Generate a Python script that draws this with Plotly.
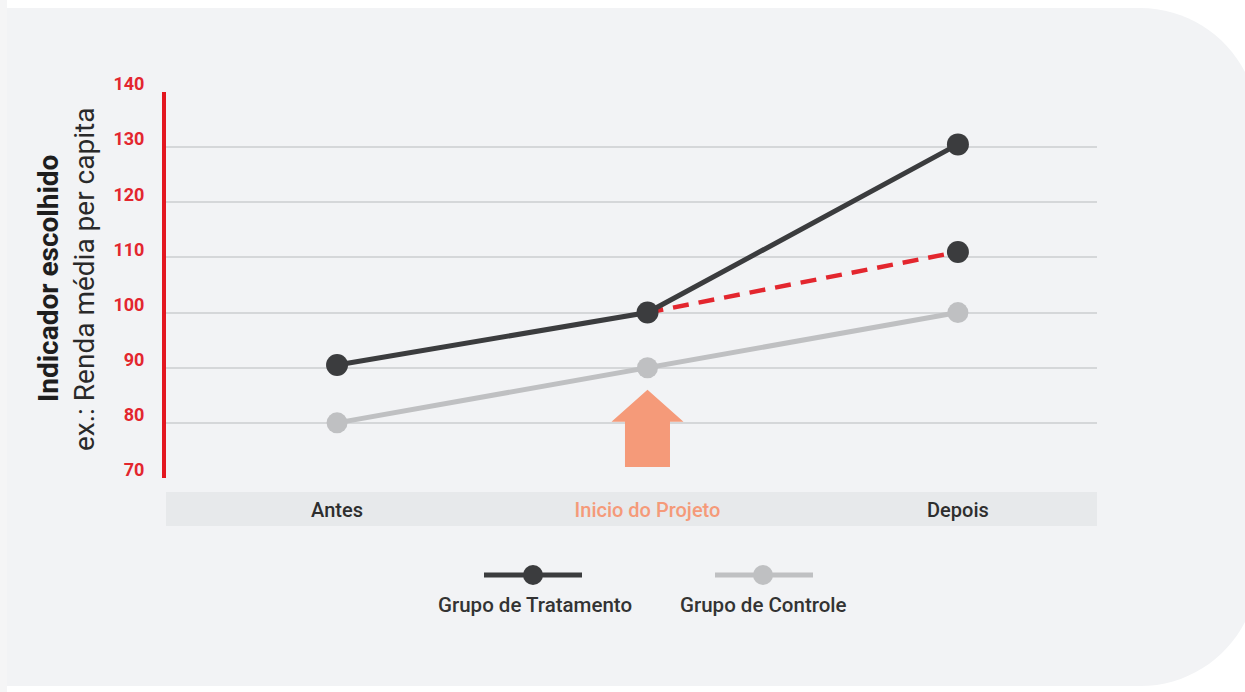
import plotly.graph_objects as go

# ---- data ----
categories = ["Antes", "Inicio do Projeto", "Depois"]
x_pos = [0, 1, 2]
tratamento = [90.5, 100, 130.5]
controle = [80, 90, 100]
contrafactual_x = [1, 2]
contrafactual = [100, 111]
y_ticks = [70, 80, 90, 100, 110, 120, 130, 140]
legend_names = ["Grupo de Tratamento", "Grupo de Controle"]

# ---- style ----
W, H = 1245, 692
L, R, T, B = 166, 1097, 92, 478  # plot area in px
BG = "#f2f3f5"
DARK = "#3b3c3e"
LIGHT = "#bfc0c2"
RED = "#e3262e"
SALMON = "#f59a79"
FONT = "Roboto"


def px_x(px):
    return (px - L) / (R - L)


def px_y(py):
    return (B - py) / (B - T)


fig = go.Figure()

fig.add_trace(go.Scatter(
    x=x_pos, y=controle, mode="lines+markers", name=legend_names[1],
    line=dict(color=LIGHT, width=5), marker=dict(color=LIGHT, size=21),
    showlegend=False, hoverinfo="skip"))
fig.add_trace(go.Scatter(
    x=contrafactual_x, y=contrafactual, mode="lines",
    line=dict(color=RED, width=4.5, dash="16px,10px"),
    showlegend=False, hoverinfo="skip"))
fig.add_trace(go.Scatter(
    x=contrafactual_x[-1:], y=contrafactual[-1:], mode="markers",
    marker=dict(color=DARK, size=22, line=dict(width=0)),
    showlegend=False, hoverinfo="skip"))
fig.add_trace(go.Scatter(
    x=x_pos, y=tratamento, mode="lines+markers", name=legend_names[0],
    line=dict(color=DARK, width=5), marker=dict(color=DARK, size=22),
    showlegend=False, hoverinfo="skip"))

shapes = []
# left light strip
shapes.append(dict(type="rect", xref="paper", yref="paper", layer="below",
                   x0=px_x(0), x1=px_x(7), y0=px_y(H), y1=px_y(0),
                   fillcolor="#f5f5f6", line=dict(width=0)))
# rounded background panel
x0, x1, y0, y1, r = 7, 1258, 8, 686, 118
k = 0.5523 * r
pts = [
    f"M {px_x(x0)},{px_y(y0)}",
    f"L {px_x(x1 - r)},{px_y(y0)}",
    f"C {px_x(x1 - r + k)},{px_y(y0)} {px_x(x1)},{px_y(y0 + r - k)} {px_x(x1)},{px_y(y0 + r)}",
    f"L {px_x(x1)},{px_y(y1 - r)}",
    f"C {px_x(x1)},{px_y(y1 - r + k)} {px_x(x1 - r + k)},{px_y(y1)} {px_x(x1 - r)},{px_y(y1)}",
    f"L {px_x(x0)},{px_y(y1)}",
    "Z",
]
shapes.append(dict(type="path", xref="paper", yref="paper", layer="below",
                   path=" ".join(pts), fillcolor=BG, line=dict(width=0)))
# category band
shapes.append(dict(type="rect", xref="paper", yref="paper", layer="below",
                   x0=0, x1=1, y0=px_y(526), y1=px_y(492),
                   fillcolor="#e7e9eb", line=dict(width=0)))
# arrow (data coordinates)
ax, hw, sw = 1.0, 0.116, 0.0725
tip, base, bottom = 86.0, 80.2, 72.0
arrow = (f"M {ax},{tip} L {ax + hw},{base} L {ax + sw},{base} L {ax + sw},{bottom} "
         f"L {ax - sw},{bottom} L {ax - sw},{base} L {ax - hw},{base} Z")
shapes.append(dict(type="path", xref="x", yref="y", path=arrow,
                   fillcolor=SALMON, line=dict(width=0)))
# custom legend symbols
for (lx0, lx1, cx, col, sz) in [(484, 582, 533, DARK, 10), (715, 813, 763, LIGHT, 10)]:
    shapes.append(dict(type="line", xref="paper", yref="paper",
                       x0=px_x(lx0), x1=px_x(lx1), y0=px_y(575), y1=px_y(575),
                       line=dict(color=col, width=5)))
    shapes.append(dict(type="circle", xref="paper", yref="paper",
                       xsizemode="pixel", ysizemode="pixel",
                       xanchor=px_x(cx), yanchor=px_y(575),
                       x0=-sz, x1=sz, y0=-sz, y1=sz,
                       fillcolor=col, line=dict(width=0)))

annotations = [
    dict(text="<b>Indicador escolhido</b>", xref="paper", yref="paper",
         x=px_x(48), y=px_y(279), textangle=-90, showarrow=False,
         xanchor="center", yanchor="middle",
         font=dict(family=FONT, size=28, color="#1e1e1e")),
    dict(text="ex.: Renda média per capita", xref="paper", yref="paper",
         x=px_x(84), y=px_y(280), textangle=-90, showarrow=False,
         xanchor="center", yanchor="middle",
         font=dict(family=FONT, size=28, color="#2a2a2a")),
    dict(text=legend_names[0], xref="paper", yref="paper",
         x=px_x(535), y=px_y(605), showarrow=False, xanchor="center", yanchor="middle",
         font=dict(family=FONT, size=20.5, color="#333333", weight=500)),
    dict(text=legend_names[1], xref="paper", yref="paper",
         x=px_x(763), y=px_y(605), showarrow=False, xanchor="center", yanchor="middle",
         font=dict(family=FONT, size=20.5, color="#333333", weight=500)),
]

cat_colors = ["#2e2e2e", SALMON, "#2e2e2e"]
ticktext = [f'<span style="color:{c}">{t}</span>' for t, c in zip(categories, cat_colors)]

fig.update_layout(
    width=W, height=H,
    margin=dict(l=L, r=W - R, t=T, b=H - B, pad=0),
    paper_bgcolor="white", plot_bgcolor="rgba(0,0,0,0)",
    shapes=shapes, annotations=annotations, showlegend=False,
    xaxis=dict(range=[-0.551, 2.448], showgrid=False, zeroline=False, showline=False,
               tickvals=x_pos, ticktext=ticktext, ticks="", ticklabelstandoff=18,
               tickfont=dict(family=FONT, size=20, color="#2e2e2e", weight=500),
               fixedrange=True),
    yaxis=dict(range=[70, 140], tickvals=y_ticks, showgrid=True,
               gridcolor="#d5d7d9", gridwidth=2, zeroline=False,
               showline=True, linecolor="#e3161f", linewidth=4,
               ticks="", ticklabelstandoff=14, ticklabelshift=-8,
               tickfont=dict(family=FONT, size=18, color=RED, weight=700),
               fixedrange=True),
)

fig.write_html("out.html")
